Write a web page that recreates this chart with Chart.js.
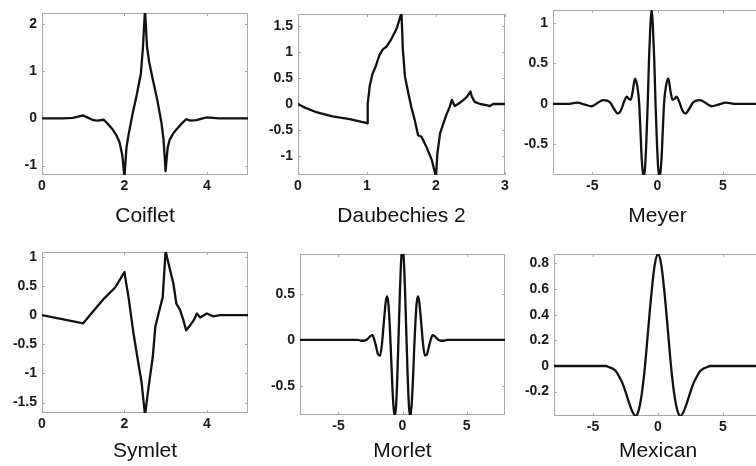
<!DOCTYPE html>
<html>
<head>
<meta charset="utf-8">
<title>Wavelets</title>
<script src="https://cdn.jsdelivr.net/npm/chart.js@4.4.1/dist/chart.umd.min.js"></script>
<style>
  html, body { margin: 0; padding: 0; background: #fff; width: 756px; height: 466px; overflow: hidden; position: relative; }
  canvas { position: absolute; }
</style>
</head>
<body>
<canvas id="coiflet"></canvas>
<canvas id="daub"></canvas>
<canvas id="meyer"></canvas>
<canvas id="symlet"></canvas>
<canvas id="morlet"></canvas>
<canvas id="mexican"></canvas>
<script>
// Coiflet
const coifletX = [0, 0.5, 0.75, 0.9, 1.0, 1.1, 1.25, 1.35, 1.5, 1.6, 1.7, 1.8, 1.88, 1.95, 2.0, 2.05, 2.1, 2.2, 2.3, 2.4, 2.45, 2.5, 2.55, 2.6, 2.7, 2.8, 2.9, 2.95, 3.0, 3.05, 3.1, 3.2, 3.3, 3.4, 3.5, 3.6, 3.75, 3.9, 4.0, 4.15, 4.3, 4.5, 5];
const coifletY = [0, 0, 0.01, 0.04, 0.06, 0.02, -0.04, -0.05, -0.03, -0.12, -0.22, -0.35, -0.5, -0.78, -1.25, -0.62, -0.35, 0.1, 0.5, 0.95, 1.5, 2.3, 1.5, 1.2, 0.78, 0.38, -0.1, -0.45, -1.12, -0.62, -0.45, -0.3, -0.2, -0.1, -0.02, -0.05, -0.04, 0, 0.02, 0.01, 0, 0, 0];
const coifletXTicks = [0, 2, 4];
const coifletYTicks = [-1, 0, 1, 2];

// Daubechies 2
const daubX = [0, 0.1, 0.25, 0.5, 0.75, 1.0, 1.01, 1.04, 1.08, 1.12, 1.18, 1.23, 1.28, 1.35, 1.43, 1.5, 1.52, 1.55, 1.6, 1.64, 1.69, 1.74, 1.79, 1.86, 1.94, 2.0, 2.02, 2.06, 2.1, 2.15, 2.2, 2.23, 2.27, 2.32, 2.4, 2.45, 2.5, 2.52, 2.56, 2.64, 2.73, 2.78, 2.83, 3.0];
const daubY = [0, -0.07, -0.15, -0.24, -0.29, -0.37, 0.0, 0.35, 0.58, 0.7, 0.94, 1.05, 1.1, 1.24, 1.45, 1.75, 1.04, 0.53, 0.2, -0.05, -0.3, -0.6, -0.63, -0.82, -1.08, -1.4, -0.95, -0.56, -0.4, -0.21, -0.05, 0.08, -0.04, 0, 0.08, 0.14, 0.24, 0.14, 0.04, 0, -0.02, -0.04, 0, 0];
const daubXTicks = [0, 1, 2, 3];
const daubYTicks = [-1, -0.5, 0, 0.5, 1, 1.5];

// Meyer
const meyerX = [-8, -6.75, -6.15, -5.55, -5.05, -4.65, -4.15, -3.65, -3.3, -3.05, -2.8, -2.55, -2.35, -2.2, -2.05, -1.9, -1.73, -1.55, -1.4, -1.3, -1.2, -1.07, -0.95, -0.85, -0.75, -0.65, -0.55, -0.45,
  -0.35, -0.25, -0.15, -0.05, 0.05, 0.17, 0.3, 0.4, 0.5, 0.65, 0.83, 1.0, 1.15, 1.3, 1.45, 1.65, 1.9, 2.15, 2.4, 2.75, 3.25, 3.75, 4.15, 4.65, 5.25, 5.85, 8];
const meyerY = [0, 0, 0.015, -0.01, -0.03, 0.005, 0.045, 0.02, -0.07, -0.12, -0.08, 0.03, 0.09, 0.06, 0.05, 0.15, 0.31, 0.22, 0, -0.35, -0.7, -0.92, -0.78, -0.45, 0, 0.55, 0.95, 1.17,
  0.95, 0.55, 0, -0.45, -0.78, -0.92, -0.7, -0.35, 0, 0.22, 0.31, 0.15, 0.05, 0.06, 0.09, 0.03, -0.08, -0.12, -0.07, 0.02, 0.045, 0.005, -0.03, -0.01, 0.015, 0, 0];
const meyerXTicks = [-5, 0, 5];
const meyerYTicks = [-0.5, 0, 0.5, 1];

// Symlet
const symletX = [0, 1.0, 1.33, 1.5, 1.78, 2.0, 2.1, 2.22, 2.34, 2.42, 2.5, 2.59, 2.69, 2.75, 2.83, 2.93, 3.0, 3.11, 3.19, 3.26, 3.35, 3.42, 3.5, 3.6, 3.68, 3.76, 3.84, 4.0, 4.16, 4.32, 5];
const symletY = [0, -0.14, 0.14, 0.28, 0.48, 0.74, 0.31, -0.31, -0.83, -1.17, -1.72, -1.22, -0.71, -0.2, 0.03, 0.31, 1.1, 0.77, 0.54, 0.2, 0.09, -0.06, -0.26, -0.17, -0.09, 0.03, -0.04, 0.03, -0.02, 0, 0];
const symletXTicks = [0, 2, 4];
const symletYTicks = [-1.5, -1, -0.5, 0, 0.5, 1];

// Morlet
const morletX = [-8, -4, -3.5, -3.2, -3.0, -2.8, -2.65, -2.5, -2.35, -2.2, -2.05, -1.9, -1.75, -1.6, -1.45, -1.3, -1.2, -1.1, -1.0, -0.9, -0.8, -0.7, -0.6, -0.5, -0.4, -0.3, -0.2, -0.1, 0,
  0.1, 0.2, 0.3, 0.4, 0.5, 0.6, 0.7, 0.8, 0.9, 1.0, 1.1, 1.2, 1.3, 1.45, 1.6, 1.75, 1.9, 2.05, 2.2, 2.35, 2.5, 2.65, 2.8, 3.0, 3.2, 3.5, 4, 8];
const morletY = [0, 0, 0, -0.01, -0.01, 0, 0.02, 0.04, 0.05, 0, -0.08, -0.16, -0.17, -0.04, 0.2, 0.42, 0.47, 0.39, 0.17, -0.14, -0.48, -0.73, -0.83, -0.71, -0.38, 0.07, 0.53, 0.87, 1.0,
  0.87, 0.53, 0.07, -0.38, -0.71, -0.83, -0.73, -0.48, -0.14, 0.17, 0.39, 0.47, 0.42, 0.2, -0.04, -0.17, -0.16, -0.08, 0, 0.05, 0.04, 0.02, 0, -0.01, -0.01, 0, 0, 0];
const morletXTicks = [-5, 0, 5];
const morletYTicks = [-0.5, 0, 0.5];

// Mexican hat
const mexicanX = [-8, -4.5, -4, -3.75, -3.5, -3.25, -3, -2.75, -2.5, -2.25, -2, -1.73, -1.5, -1.25, -1, -0.75, -0.5, -0.25, 0,
  0.25, 0.5, 0.75, 1, 1.25, 1.5, 1.73, 2, 2.25, 2.5, 2.75, 3, 3.25, 3.5, 3.75, 4, 4.5, 8];
const mexicanY = [0, 0, 0, -0.01, -0.02, -0.04, -0.08, -0.13, -0.2, -0.28, -0.35, -0.39, -0.35, -0.22, 0, 0.29, 0.57, 0.79, 0.87,
  0.79, 0.57, 0.29, 0, -0.22, -0.35, -0.39, -0.35, -0.28, -0.2, -0.13, -0.08, -0.04, -0.02, -0.01, 0, 0, 0];
const mexicanXTicks = [-5, 0, 5];
const mexicanYTicks = [-0.2, 0, 0.2, 0.4, 0.6, 0.8];

const YW = 45, PT = 16, PR = 14, XH = 60;
const tickFont = { family: "'Liberation Sans', Arial, sans-serif", size: 14, weight: 'bold' };
const titleFont = { family: "'Liberation Sans', Arial, sans-serif", size: 21, lineHeight: 1.2 };

// cadre gris + petites graduations vers l'intérieur (style MATLAB)
const frameTicks = {
  id: 'frameTicks',
  beforeDatasetsDraw(chart) {
    const { ctx, chartArea: a, scales } = chart;
    ctx.save();
    ctx.strokeStyle = '#a8a8a8';
    ctx.lineWidth = 1;
    ctx.strokeRect(a.left + 0.5, a.top + 0.5, a.right - a.left - 1, a.bottom - a.top - 1);
    ctx.beginPath();
    scales.x.ticks.forEach((t) => {
      const px = Math.round(scales.x.getPixelForValue(t.value)) + 0.5;
      ctx.moveTo(px, a.bottom); ctx.lineTo(px, a.bottom - 3);
      ctx.moveTo(px, a.top); ctx.lineTo(px, a.top + 3);
    });
    scales.y.ticks.forEach((t) => {
      const py = Math.round(scales.y.getPixelForValue(t.value)) + 0.5;
      ctx.moveTo(a.left, py); ctx.lineTo(a.left + 3, py);
      ctx.moveTo(a.right, py); ctx.lineTo(a.right - 3, py);
    });
    ctx.stroke();
    ctx.restore();
  }
};

function makePanel(id, p) {
  const canvas = document.getElementById(id);
  canvas.width = YW + (p.right - p.left) + PR;
  canvas.height = PT + (p.bottom - p.top) + XH;
  canvas.style.left = (p.left - YW) + "px";
  canvas.style.top = (p.top - PT) + "px";
  const titleMidInCanvas = p.titleY - (p.top - PT);
  const titlePadBottom = canvas.height - titleFont.size * 1.2 / 2 - titleMidInCanvas;

  const points = p.xs.map((x, i) => ({ x: x, y: p.ys[i] }));

  return new Chart(canvas, {
    type: "line",
    data: {
      datasets: [{
        data: points,
        borderColor: "#111",
        borderWidth: 2.3,
        pointRadius: 0,
        fill: false,
        tension: p.smooth ? 0.4 : 0,
        cubicInterpolationMode: p.smooth ? "monotone" : "default",
        borderJoinStyle: "round",
        borderCapStyle: "round",
      }],
    },
    options: {
      responsive: false,
      animation: false,
      events: [],
      layout: { padding: { top: PT, right: PR, left: 0, bottom: 0 } },
      plugins: { legend: { display: false }, tooltip: { enabled: false } },
      scales: {
        x: {
          type: "linear",
          min: p.xMin,
          max: p.xMax,
          grid: { display: false, drawTicks: false },
          border: { display: false },
          afterBuildTicks: (axis) => { axis.ticks = p.xTicks.map((v) => ({ value: v })); },
          afterFit: (axis) => { axis.height = XH; },
          ticks: { font: tickFont, color: "#1a1a1a", padding: 3, maxRotation: 0, callback: (v) => String(v) },
          title: { display: true, text: p.title, font: titleFont, color: "#111", padding: { top: 0, bottom: titlePadBottom } },
        },
        y: {
          type: "linear",
          min: p.yMin,
          max: p.yMax,
          grid: { display: false, drawTicks: false },
          border: { display: false },
          afterBuildTicks: (axis) => { axis.ticks = p.yTicks.map((v) => ({ value: v })); },
          afterFit: (axis) => { axis.width = YW; },
          ticks: { font: tickFont, color: "#1a1a1a", padding: 5, callback: (v) => String(v) },
        },
      },
    },
    plugins: [frameTicks],
  });
}

makePanel("coiflet", { title: "Coiflet", xs: coifletX, ys: coifletY, xTicks: coifletXTicks, yTicks: coifletYTicks,
  xMin: 0, xMax: 5, yMin: -1.2, yMax: 2.23, left: 42, right: 248, top: 13, bottom: 175, titleY: 216 });
makePanel("daub", { title: "Daubechies 2", xs: daubX, ys: daubY, xTicks: daubXTicks, yTicks: daubYTicks,
  xMin: 0, xMax: 3, yMin: -1.365, yMax: 1.73, left: 298, right: 505, top: 14, bottom: 175, titleY: 216 });
makePanel("meyer", { title: "Meyer", xs: meyerX, ys: meyerY, xTicks: meyerXTicks, yTicks: meyerYTicks, smooth: true,
  xMin: -8, xMax: 8, yMin: -0.88, yMax: 1.16, left: 553, right: 762, top: 10, bottom: 175, titleY: 216 });
makePanel("symlet", { title: "Symlet", xs: symletX, ys: symletY, xTicks: symletXTicks, yTicks: symletYTicks,
  xMin: 0, xMax: 5, yMin: -1.68, yMax: 1.085, left: 42, right: 248, top: 252, bottom: 413, titleY: 451 });
makePanel("morlet", { title: "Morlet", xs: morletX, ys: morletY, xTicks: morletXTicks, yTicks: morletYTicks, smooth: true,
  xMin: -8, xMax: 8, yMin: -0.815, yMax: 0.93, left: 300, right: 505, top: 254, bottom: 415, titleY: 451 });
makePanel("mexican", { title: "Mexican", xs: mexicanX, ys: mexicanY, xTicks: mexicanXTicks, yTicks: mexicanYTicks, smooth: true,
  xMin: -8, xMax: 8, yMin: -0.39, yMax: 0.873, left: 554, right: 762, top: 254, bottom: 416, titleY: 451 });
</script>
</body>
</html>
